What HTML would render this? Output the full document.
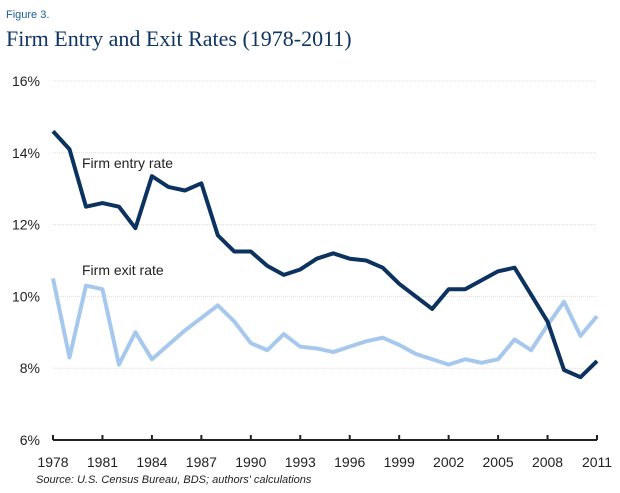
<!DOCTYPE html>
<html><head><meta charset="utf-8"><style>
body{margin:0;background:#fff;width:620px;height:488px;overflow:hidden;font-family:"Liberation Sans",sans-serif}
</style></head><body>
<svg width="620" height="488">
<text x="6" y="18" font-size="11" fill="#1a5f9e">Figure 3.</text>
<text x="6" y="46" font-size="22" font-family="Liberation Serif, serif" fill="#0f3564">Firm Entry and Exit Rates (1978-2011)</text>
<g id="grid"></g><g id="axes"></g><g id="lines"></g>
<text x="82" y="168" font-size="14" fill="#222">Firm entry rate</text>
<text x="82" y="275" font-size="14" fill="#222">Firm exit rate</text>
<text x="36" y="483" font-size="11" font-style="italic" fill="#222">Source: U.S. Census Bureau, BDS; authors' calculations</text>
</svg>
<script>
const years=[];for(let y=1978;y<=2011;y++)years.push(y);
const entryRate=[14.6,14.1,12.5,12.6,12.5,11.9,13.35,13.05,12.95,13.15,11.7,11.25,11.25,10.85,10.6,10.75,11.05,11.2,11.05,11.0,10.8,10.35,10.0,9.65,10.2,10.2,10.45,10.7,10.8,10.05,9.3,7.95,7.75,8.2];
const exitRate=[10.5,8.3,10.3,10.2,8.1,9.0,8.25,8.65,9.05,9.4,9.75,9.3,8.7,8.5,8.95,8.6,8.55,8.45,8.6,8.75,8.85,8.65,8.4,8.25,8.1,8.25,8.15,8.25,8.8,8.5,9.2,9.85,8.9,9.45];
const yTicks=[6,8,10,12,14,16];
const xTicks=[1978,1981,1984,1987,1990,1993,1996,1999,2002,2005,2008,2011];
const NS="http://www.w3.org/2000/svg";
const X=y=>53+(y-1978)*(597-53)/33;
const Y=v=>440-(v-6)*(440-81)/10;
function mk(t,a,p){const e=document.createElementNS(NS,t);for(const k in a)e.setAttribute(k,a[k]);p.appendChild(e);return e;}
const grid=document.getElementById('grid'),axes=document.getElementById('axes'),lines=document.getElementById('lines');
yTicks.forEach(v=>{
 if(v>6){const l=mk('line',{x1:53,x2:597,y1:Y(v),y2:Y(v),stroke:'#ddd','stroke-width':1,'stroke-dasharray':'1 1'},grid);
 
 }
 const t=mk('text',{x:40,y:Y(v)+5,'font-size':14,'text-anchor':'end',fill:'#222'},axes);t.textContent=v+'%';
 
 
});
const ax=mk('line',{x1:53,x2:597,y1:440,y2:440,stroke:'#222','stroke-width':2},axes);


xTicks.forEach(yr=>{
 const tk=mk('line',{x1:X(yr),x2:X(yr),y1:435,y2:440,stroke:'#222','stroke-width':2},axes);
 
 
 const t=mk('text',{x:X(yr),y:467,'font-size':14,'text-anchor':'middle',fill:'#222'},axes);t.textContent=yr;
 
 
});
function series(d,c,n){const p=mk('polyline',{points:d.map((v,i)=>X(years[i])+','+Y(v)).join(' '),fill:'none',stroke:c,'stroke-width':4,'stroke-linejoin':'round'},lines);
 
 }
series(exitRate,'#a7c8ee','exit-rate-line');
series(entryRate,'#0c3260','entry-rate-line');
</script>
</body></html>
